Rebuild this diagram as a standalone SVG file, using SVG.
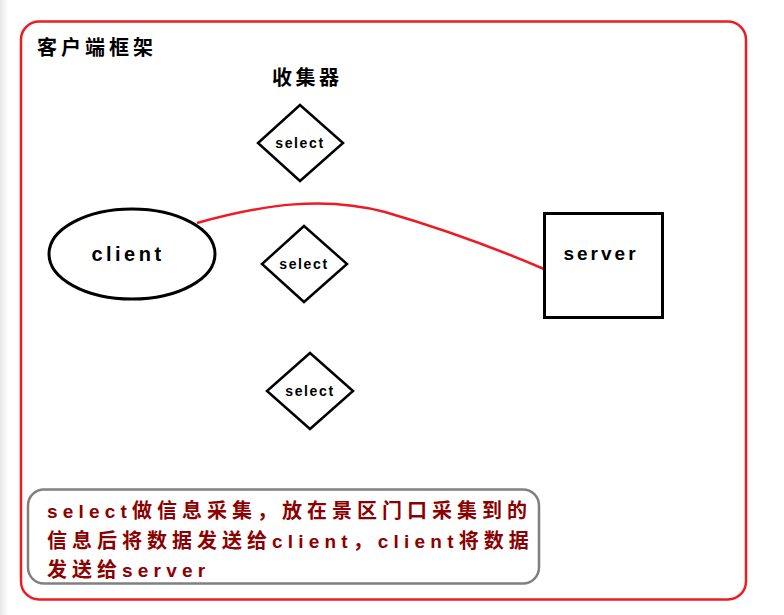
<svg xmlns="http://www.w3.org/2000/svg" width="784" height="615" viewBox="0 0 784 615">
<defs>
<style>
.lbl{font-family:"Liberation Sans","DejaVu Sans",sans-serif;font-weight:bold;fill:#000}
.cjk{font-family:"Noto Sans CJK SC","Liberation Sans",sans-serif;font-weight:bold;fill:#000}
.note{font-family:"Noto Sans CJK SC","Liberation Sans",sans-serif;font-weight:bold;fill:#8B0000;font-size:20px;letter-spacing:5px}
.lat{font-family:"Liberation Sans","DejaVu Sans",sans-serif;font-size:19px;letter-spacing:5.2px}
.shape{fill:#fff;stroke:#000;stroke-width:3}
.dia{fill:#fff;stroke:#000;stroke-width:2.5;stroke-linejoin:miter}
.sel{font-family:"Liberation Sans","DejaVu Sans",sans-serif;font-weight:bold;font-size:14px;letter-spacing:1.6px;text-anchor:middle;fill:#000}
</style>
<linearGradient id="edge" x1="0" x2="1" y1="0" y2="0">
<stop offset="0" stop-color="#e6e6e6"/><stop offset="1" stop-color="#fff"/>
</linearGradient>
</defs>
<rect x="0" y="0" width="784" height="615" fill="#fff"/>
<rect x="0" y="0" width="8" height="615" fill="url(#edge)"/>
<g id="frame">
<rect x="21" y="21.5" width="725" height="578" rx="18" ry="18" fill="none" stroke="#ED1C24" stroke-width="2.5"/>
<text class="cjk" x="37" y="55" font-size="20" letter-spacing="4">客户端框架</text>
<text class="cjk" x="272" y="85" font-size="20" letter-spacing="3.5">收集器</text>
</g>
<g id="connectors">
<path d="M197,223 C265,204 325,196 385,212 C440,228 495,248 544,269" fill="none" stroke="#ED1C24" stroke-width="2.5"/>
</g>
<g id="client">
<ellipse cx="132" cy="254" rx="83" ry="45" class="shape" stroke-width="2.5"/>
<text class="lbl" x="128" y="261" font-size="20" letter-spacing="3.5" text-anchor="middle">client</text>
</g>
<g id="server">
<rect x="544.5" y="213.5" width="118" height="104" class="shape"/>
<text class="lbl" x="601" y="260" font-size="19" letter-spacing="3" text-anchor="middle">server</text>
</g>
<g id="select1">
<polygon points="300,105 343,143 300,181 258,143" class="dia"/>
<text class="sel" x="300" y="148">select</text>
</g>
<g id="select2">
<polygon points="304,226 347,264 304,302 262,264" class="dia"/>
<text class="sel" x="304" y="269">select</text>
</g>
<g id="select3">
<polygon points="310,353 353,391 310,429 267,391" class="dia"/>
<text class="sel" x="310" y="396">select</text>
</g>
<g id="note">
<rect x="28" y="489.5" width="511" height="94" rx="16" ry="16" fill="#fff" stroke="#808080" stroke-width="2.5"/>
<text class="note" x="47" y="518"><tspan class="lat">select</tspan>做信息采集，放在景区门口采集到的</text>
<text class="note" x="47" y="548">信息后将数据发送给<tspan class="lat">client</tspan>，<tspan class="lat">client</tspan>将数据</text>
<text class="note" x="47" y="577">发送给<tspan class="lat">server</tspan></text>
</g>
</svg>
